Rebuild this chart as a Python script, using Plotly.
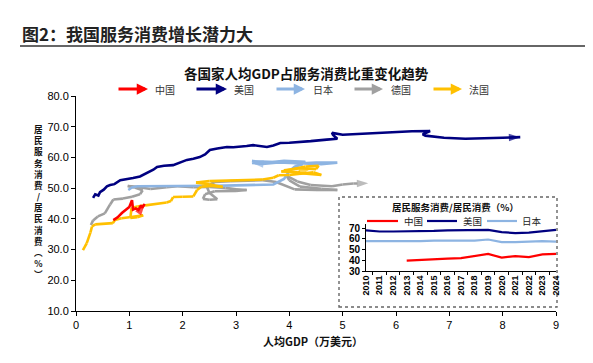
import plotly.graph_objects as go

# ---------------- data ----------------
us_x = [0.32,0.36,0.42,0.45,0.52,0.58,0.64,0.72,0.83,0.95,1.07,1.2,1.33,1.45,1.52,1.65,1.82,1.95,2.08,2.2,2.32,2.42,2.51,2.65,2.83,2.95,3.08,3.2,3.32,3.45,3.58,3.7,3.83,4.0,4.2,4.4,4.7,4.9,4.82,4.8,5.0,5.3,5.6,5.9,6.3,6.64,6.5,6.55,6.9,7.3,7.7,8.0,8.33]
us_y = [46.8,48.0,47.6,48.7,49.5,50.6,51,51.3,52.6,52.9,53.3,53.8,54.9,56.0,56.9,57.3,57.5,58.4,59.2,59.6,60.1,61.0,62.4,62.9,63.4,63.3,63.4,63.7,64,63.8,63.4,63.9,64.7,64.8,65.0,65.3,65.8,66.1,67.3,68.0,67.4,67.7,68.0,68.3,68.5,68.6,67.5,67.1,66.4,66.1,66.2,66.4,66.6]

jp_x = [0.98,1.05,1.15,1.4,1.8,2.2,2.6,3.0,3.4,3.7,3.9,4.0,4.1,4.25,4.0,3.6,3.3,3.5,3.9,4.3,4.15,4.5,4.9,4.6,4.2,3.8,3.5,3.3]
jp_y = [49.4,50.2,50.6,50.6,50.7,50.7,50.8,50.9,51.0,51.2,53.0,55.5,57.0,57.8,58.3,58.6,58.8,58.2,58.9,58.6,58.0,58.3,58.3,57.8,58.0,58.4,57.9,58.2]

de_x = [0.28,0.32,0.41,0.54,0.64,0.7,0.88,1.05,1.2,1.25,1.1,0.97,1.15,1.4,1.7,1.9,2.2,2.5,2.8,3.0,3.2,3.0,2.6,2.42,2.38,2.5,2.65,2.5,2.45,2.6,2.9,3.2,3.5,3.75,3.95,4.1,4.5,4.9,4.6,4.2,4.0,3.95,4.15,4.4,4.8,5.0,5.2,5.48]
de_y = [38.0,39.5,40.8,41.8,44.7,46.3,46.6,47.2,48.0,49.3,50.2,50.7,50.4,49.7,50.3,50.6,50.3,50.4,50.1,49.6,49.4,49.1,49.0,48.0,46.5,46.2,46.4,48.5,50.6,52.0,52.3,52.5,52.6,52.0,50.5,49.6,49.4,49.4,49.8,50.5,52.5,54.0,52.2,51.0,50.6,51.2,51.5,51.6]

fr_x = [0.13,0.2,0.27,0.3,0.36,0.5,0.62,0.69,0.73,0.85,1.0,1.15,1.26,1.15,1.02,1.04,1.15,1.3,1.5,1.7,1.78,1.82,2.0,2.2,2.27,2.35,2.55,2.75,2.5,2.25,2.5,2.9,3.2,3.5,3.7,3.8,4.0,4.2,4.45,4.6,4.35,4.1,3.9,4.2,4.5,4.55,4.3,4.0,3.85,4.15,4.4]
fr_y = [29.8,32.0,35.5,37.5,38.2,38.3,38.4,38.6,39.6,40.2,40.5,40.8,41.2,40.5,40.3,43.5,44.0,44.4,44.8,45.3,45.8,47.1,47.2,47.3,49.4,50.5,50.7,50.4,51.3,51.8,52.3,52.5,52.6,52.8,53.4,54.2,54.3,54.8,55.2,54.3,54.6,55.0,55.8,56.5,56.2,57.3,57.0,56.0,55.4,55.2,56.2]

cn_x = [0.7,0.78,0.86,0.93,1.0,1.05,1.07,1.12,1.17,1.22,1.24,1.29]
cn_y = [39.6,40.5,41.9,42.8,43.9,46.1,43.0,43.4,42.9,44.4,43.6,44.8]

years = [str(y) for y in range(2010, 2025)]
inset_cn = [None, None, None, 39.7, 40.5, 41.0, 41.5, 42.0, 44.0, 46.0, 42.5, 44.0, 43.0, 45.5, 46.0]
inset_us = [68.0, 67.0, 67.0, 67.0, 67.0, 67.5, 68.0, 68.0, 68.0, 68.5, 66.5, 65.5, 66.0, 67.0, 68.5]
inset_jp = [58.0, 58.0, 58.0, 57.5, 58.0, 58.5, 58.5, 58.5, 58.5, 59.5, 57.0, 57.0, 57.5, 58.0, 57.5]

x_ticks = list(range(0, 10))
y_ticks = [10, 20, 30, 40, 50, 60, 70, 80]
y_title_chars = list("居民服务消费/居民消费") + ["︵", "%", "︶"]

C_CN = "#FF0000"
C_US = "#000080"
C_JP = "#8DB4E2"
C_DE = "#A0A0A0"
C_FR = "#FFC000"

FONT = "Liberation Sans, Arial, Noto Sans CJK SC, sans-serif"
CJK = "Noto Sans CJK SC, sans-serif"

fig = go.Figure()


def traj(x, y, color, name):
    n = len(x)
    fig.add_trace(go.Scatter(
        x=x, y=y, mode="lines+markers", name=name,
        line=dict(color=color, width=2.6),
        marker=dict(symbol="arrow", angleref="previous", color=color,
                    size=[0] * (n - 1) + [12], line=dict(width=0)),
        showlegend=False, hoverinfo="skip"))


traj(de_x, de_y, C_DE, "德国")
traj(jp_x, jp_y, C_JP, "日本")
traj(fr_x, fr_y, C_FR, "法国")
traj(cn_x, cn_y, C_CN, "中国")
traj(us_x, us_y, C_US, "美国")

# inset
for vals, col, nm in [(inset_cn, C_CN, "中国"), (inset_us, C_US, "美国"), (inset_jp, C_JP, "日本")]:
    fig.add_trace(go.Scatter(x=years, y=vals, mode="lines", name=nm,
                             line=dict(color=col, width=2.2),
                             xaxis="x2", yaxis="y2", showlegend=False,
                             hoverinfo="skip", connectgaps=False))

# page body has an 8px margin; work in screenshot pixels and convert
OFF = 8
W, H = 593 - OFF, 363 - OFF
L, R, T, B = 76, 556, 96, 311   # plot area in screenshot pixels


def px(v):
    return (v - L) / (R - L)


def py(v):
    return (B - v) / (B - T)


fig.update_layout(
    width=W, height=H,
    margin=dict(l=L - OFF, r=W - (R - OFF), t=T - OFF, b=H - (B - OFF), pad=0),
    paper_bgcolor="white", plot_bgcolor="rgba(0,0,0,0)",
    font=dict(family=FONT, color="#000"),
    xaxis=dict(range=[0, 9], tickvals=x_ticks, showgrid=False, zeroline=False,
               showline=True, linecolor="#000", linewidth=1, ticks="outside",
               ticklen=4, tickcolor="#000", tickfont=dict(size=11, family=FONT),
               fixedrange=True),
    yaxis=dict(range=[10, 80], tickvals=y_ticks, tickformat=".1f", showgrid=False,
               zeroline=False, showline=True, linecolor="#000", linewidth=1,
               ticks="outside", ticklen=4, tickcolor="#000",
               tickfont=dict(size=11, family=FONT), fixedrange=True),
    xaxis2=dict(domain=[px(366), 1.0], anchor="y2", type="category",
                categoryorder="array", categoryarray=years,
                showgrid=False, zeroline=False, showline=True, linecolor="#000",
                linewidth=1, ticks="outside", ticklen=3, tickson="boundaries",
                tickcolor="#000", tickangle=-90,
                tickfont=dict(size=9, family=FONT, weight="bold")),
    yaxis2=dict(domain=[py(271), py(223.5)], anchor="x2", range=[30, 74.5],
                tickvals=[30, 40, 50, 60, 70], showgrid=False, zeroline=False,
                showline=True, linecolor="#000", linewidth=1, ticks="outside",
                ticklen=3, tickcolor="#000",
                tickfont=dict(size=10, family=FONT, weight="bold")),
)

shapes = [
    # title underline
    dict(type="line", xref="paper", yref="paper", x0=px(20), x1=px(593), y0=py(46), y1=py(46),
         line=dict(color="#333", width=1.6)),
    # inset dashed frame
    dict(type="rect", xref="paper", yref="paper", x0=px(339), x1=px(557), y0=py(307), y1=py(197),
         line=dict(color="#666", width=1.4, dash="dot"), fillcolor="white", layer="below"),
]
# inset legend line samples
for x0, x1, col in [(367, 398, C_CN), (427, 457, C_US), (487, 517, C_JP)]:
    shapes.append(dict(type="line", xref="paper", yref="paper", x0=px(x0), x1=px(x1),
                       y0=py(221), y1=py(221), line=dict(color=col, width=2.2)))

annotations = [
    dict(text="<b>图2：我国服务消费增长潜力大</b>", xref="paper", yref="paper",
         x=px(20), y=py(34), xanchor="left", yanchor="middle", showarrow=False,
         font=dict(size=17, family=CJK, color="#222")),
    dict(text="<b>各国家人均GDP占服务消费比重变化趋势</b>", xref="paper", yref="paper",
         x=px(306), y=py(73), xanchor="center", yanchor="middle", showarrow=False,
         font=dict(size=13.5, family=CJK, color="#111")),
    dict(text="<b>人均GDP（万美元）</b>", xref="paper", yref="paper",
         x=px(313), y=py(341), xanchor="center", yanchor="middle", showarrow=False,
         font=dict(size=11, family=CJK, color="#111")),
    dict(text="<b>居民服务消费/居民消费（%）</b>", xref="paper", yref="paper",
         x=px(455), y=py(207), xanchor="center", yanchor="middle", showarrow=False,
         font=dict(size=9.5, family=CJK, color="#111")),
    # vertical (stacked) y-axis title
    dict(text="<b>" + "<br>".join(y_title_chars) + "</b>",
         xref="paper", yref="paper", x=px(38), y=py(201), xanchor="center", yanchor="middle",
         showarrow=False, font=dict(size=8.6, family=CJK, color="#111")),
]
for xt, nm in [(402, "中国"), (461, "美国"), (520, "日本")]:
    annotations.append(dict(text=nm, xref="paper", yref="paper", x=px(xt), y=py(221),
                            xanchor="left", yanchor="middle", showarrow=False,
                            font=dict(size=9.5, family=CJK, color="#222")))

# main legend: arrows + labels
for head, tail, txt, col, nm in [(148, 117, 153, C_CN, "中国"), (227, 195, 232, C_US, "美国"),
                                 (305, 275, 311, C_JP, "日本"), (383, 353, 389, C_DE, "德国"),
                                 (462, 432, 467, C_FR, "法国")]:
    annotations.append(dict(text="", xref="paper", yref="paper", x=px(head), y=py(89),
                            ax=tail - head, ay=0, showarrow=True, arrowhead=2, arrowsize=0.75,
                            arrowwidth=3, arrowcolor=col, standoff=0))
    annotations.append(dict(text=nm, xref="paper", yref="paper", x=px(txt), y=py(89),
                            xanchor="left", yanchor="middle", showarrow=False,
                            font=dict(size=10, family=CJK, color="#333")))

fig.update_layout(shapes=shapes, annotations=annotations)

fig.write_html("out.html")
